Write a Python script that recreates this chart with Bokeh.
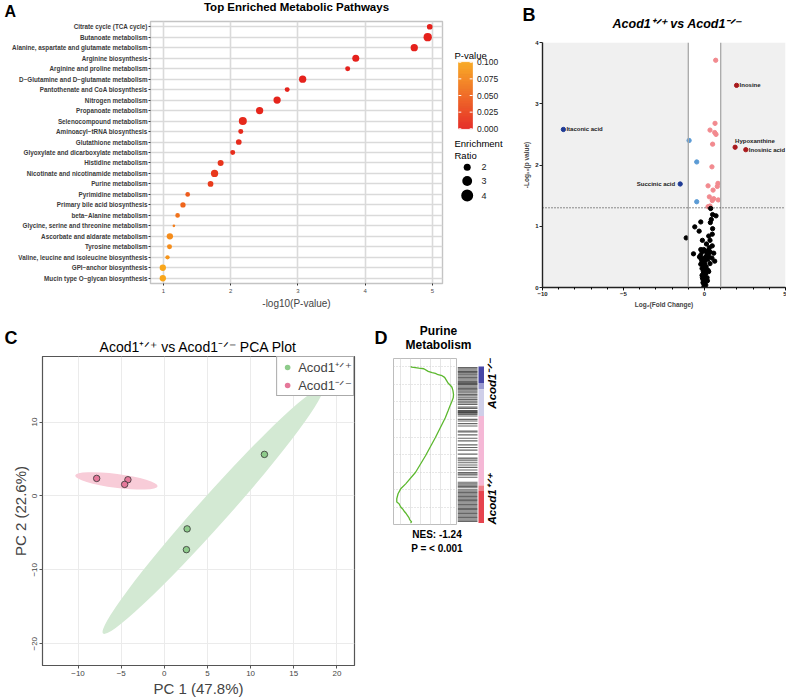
import math
from bokeh.plotting import figure
from bokeh.models import (Range1d, FactorRange, LinearColorMapper, Label, FixedTicker,
                          ColumnDataSource, Legend, LegendItem, BoxAnnotation, Span, Spacer)
from bokeh.layouts import row, column
from bokeh.embed import file_html
from bokeh.resources import INLINE
from bokeh.core.properties import value

FONT = "Liberation Sans"

# ---------------- Panel A data ----------------
pathways = [
    "Citrate cycle (TCA cycle)", "Butanoate metabolism", "Alanine, aspartate and glutamate metabolism",
    "Arginine biosynthesis", "Arginine and proline metabolism", "D\u2212Glutamine and D\u2212glutamate metabolism",
    "Pantothenate and CoA biosynthesis", "Nitrogen metabolism", "Propanoate metabolism",
    "Selenocompound metabolism", "Aminoacyl\u2212tRNA biosynthesis", "Glutathione metabolism",
    "Glyoxylate and dicarboxylate metabolism", "Histidine metabolism", "Nicotinate and nicotinamide metabolism",
    "Purine metabolism", "Pyrimidine metabolism", "Primary bile acid biosynthesis", "beta\u2212Alanine metabolism",
    "Glycine, serine and threonine metabolism", "Ascorbate and aldarate metabolism", "Tyrosine metabolism",
    "Valine, leucine and isoleucine biosynthesis", "GPI\u2212anchor biosynthesis",
    "Mucin type O\u2212glycan biosynthesis"]
neglog10_p = [4.96, 4.93, 4.73, 3.86, 3.74, 3.07, 2.84, 2.69, 2.43, 2.18, 2.15, 2.12, 2.03,
              1.85, 1.76, 1.70, 1.36, 1.29, 1.21, 1.155, 1.095, 1.09, 1.06, 0.99, 0.99]
enrichment_ratio = [1.65, 2.42, 2.09, 2.0, 1.49, 2.09, 1.49, 2.09, 2.09, 2.32, 1.49, 1.65, 1.49,
                    1.73, 2.09, 1.65, 1.43, 1.56, 1.43, 1.12, 1.81, 1.49, 1.36, 1.81, 1.81]
pvalue_ticks = [0.0, 0.025, 0.05, 0.075, 0.1]
ratio_legend = [2, 3, 4]

# ---------------- Panel B data ----------------
other_fc = [0.69, 0.65, 0.34, 0.63, 0.71, 0.50, 0.46, 0.83, 0.79, 0.22, 0.53, 0.30, 0.57, 0.48, 0.85,
            0.22, 0.34, -0.95, -0.48, -0.48,
            0.38, 0.50, 0.42, 0.71, 0.36, -0.23, -0.60, -0.33, 0.50, 0.48, 0.26, -1.13, 0.34, -0.13,
            0.12, 0.48, 0.30, -0.23, 0.08, -0.15, 0.26, 0.57, -0.68, -0.23, 0.14, 0.46, -0.31, 0.01,
            0.20, -0.17, 0.63, 0.01, -0.23, 0.34, 0.10, -0.15, 0.22, -0.07, 0.08, -0.15, 0.01, 0.16,
            -0.09, 0.03, -0.05, 0.08, -0.03, -0.09, 0.18, -0.13, 0.26, -0.03, 0.05, 0.28, -0.23,
            0.0, 0.05, -0.02, 0.12, 0.0, -0.10, 0.15, 0.20, -0.05, 0.35, 0.10, 0.03, -0.08, 0.06]
other_logp = [3.71, 2.68, 2.57, 2.53, 2.50, 2.34, 1.97, 1.70, 1.65, 1.66, 1.59, 1.48, 1.45, 1.42, 1.43,
              1.32, 1.33, 2.40, 2.05, 1.40,
              1.29, 1.19, 1.11, 1.17, 1.06, 1.07, 0.99, 0.92, 0.96, 0.87, 0.84, 0.81, 0.77, 0.77,
              0.71, 0.68, 0.65, 0.62, 0.59, 0.58, 0.56, 0.56, 0.55, 0.53, 0.52, 0.48, 0.50, 0.48,
              0.46, 0.44, 0.43, 0.41, 0.38, 0.39, 0.34, 0.31, 0.28, 0.26, 0.23, 0.20, 0.17, 0.16,
              0.13, 0.10, 0.07, 0.04, 0.02, 0.08, 0.11, 0.16, 0.26, 0.33, 0.46, 0.50, 0.48,
              0.05, 0.12, 0.22, 0.30, 0.37, 0.45, 0.57, 0.60, 0.62, 0.58, 0.50, 0.27, 0.35, 0.15]
named_mets = ["Inosine", "Hypoxanthine", "Inosinic acid", "Itaconic acid", "Succinic acid"]
named_fc = [1.98, 1.89, 2.55, -8.71, -1.50]
named_logp = [3.30, 2.29, 2.25, 2.58, 1.69]
P_CUT = -math.log10(0.05)
FC_CUT = 1.0

# ---------------- Panel C data ----------------
groups = ["Acod1\u207a\u141f\u207a", "Acod1\u207b\u141f\u207b"]
pc1_wt = [11.6, 2.64, 2.56]
pc2_wt = [5.62, -4.46, -7.27]
pc1_ko = [-7.84, -4.22, -4.60]
pc2_ko = [2.37, 2.19, 1.56]
ellipse_major = [38.1, 9.63]      # in PC1 units
ellipse_minor = [4.0, 1.87]       # in PC2 units
ellipse_angle = [48.2, -7.4]      # degrees

# ---------------- Panel D data ----------------
es_rank = [0, 38, 94, 131, 281, 356, 394, 469, 525, 619, 806, 938, 1069, 1181, 1369, 1594, 1781, 1969,
           2194, 2531, 2906, 4031, 5063, 6000, 6656, 6938, 7219, 7500, 7688, 7781, 7969, 8063, 8194,
           8306, 8438, 8569, 8681, 8813, 8870]
es_value = [0.0, 0.01, 0.083, 0.133, 0.177, 0.217, 0.25, 0.277, 0.317, 0.343, 0.363, 0.377, 0.40,
            0.417, 0.427, 0.433, 0.43, 0.417, 0.40, 0.377, 0.35, 0.25, 0.15, 0.05, -0.05, -0.10,
            -0.127, -0.14, -0.14, -0.117, -0.10, -0.083, -0.067, -0.05, -0.033, -0.017, -0.01, 0.01, 0.0]
hit_ranks = [56, 131, 206, 281, 338, 413, 469, 544, 619, 694, 769, 844, 919, 975, 1031, 1106, 1181,
             1256, 1331, 1406, 1500, 1594, 1669, 1781, 1875, 1969, 2063, 2156, 2306, 2381, 2494, 2550,
             2606, 2644, 2719, 2813, 3000, 3094, 3244, 3375, 3656, 3713, 3881, 4069, 4219, 4444, 4594,
             4744, 4969, 5194, 5250, 5344, 5456, 5588, 5719, 5869, 6019, 6094, 6150, 6281, 6563, 6656,
             6731, 6806, 6881, 6994, 7069, 7144, 7219, 7294, 7369, 7444, 7519, 7594, 7669, 7744, 7819,
             7894, 7969, 8044, 8119, 8194, 8269, 8344, 8419, 8494, 8569, 8644, 8719, 8794]
n_ranked = 8870
band_lo = [0, 940, 1300, 2810, 6750, 7030]
band_hi = [940, 1300, 2810, 6750, 7030, 8870]
band_col = ["#4646a6", "#9a9ad0", "#cfcfe9", "#f5b8d6", "#ef7f8a", "#e6434e"]
nes_text = "NES: -1.24"
p_text = "P = < 0.001"


# ---------------- helpers ----------------
def base_fig(w, h, **kw):
    p = figure(width=w, height=h, output_backend="svg", toolbar_location=None, **kw)
    p.background_fill_color = "white"
    p.border_fill_color = "white"
    p.frame_align = False
    return p


def blank_fig(w, h):
    p = base_fig(w, h, x_range=Range1d(0, w), y_range=Range1d(h, 0), min_border=0,
                 min_border_left=0, min_border_right=0, min_border_top=0, min_border_bottom=0,
                 x_axis_location=None, y_axis_location=None)
    p.outline_line_color = None
    p.xgrid.visible = False
    p.ygrid.visible = False
    return p


def txt(p, h, x, y, text, size, style="normal", align="left", baseline="alphabetic",
        angle=0.0, color="black"):
    # p is a blank figure whose frame is its whole canvas; (x, y) measured from its top-left.
    # For alphabetic text, y is the wanted baseline (the renderer sits text ~0.28em lower).
    if baseline == "alphabetic":
        y = y - 0.28 * size
    p.add_layout(Label(x=x, y=h - y, x_units="screen", y_units="screen",
                       text=text, text_font=FONT, text_font_size=f"{size}px", text_font_style=style,
                       text_align=align, text_baseline=baseline, angle=angle, text_color=color))


def style_axis(ax, size, color, style="normal"):
    ax.major_label_text_font = FONT
    ax.major_label_text_font_size = f"{size}px"
    ax.major_label_text_color = color
    ax.major_label_text_font_style = style
    ax.axis_label_text_font = FONT


TOTAL_W = 786
TOP_H = 318
BOT_H = 381

# ---------------- Panel A ----------------
RED = (229, 33, 28)
ORANGE = (249, 166, 27)
palette = ["#%02x%02x%02x" % tuple(round(a + (b - a) * i / 255) for a, b in zip(RED, ORANGE))
           for i in range(256)]
mapper = LinearColorMapper(palette=palette, low=0.0, high=0.1)


def ratio_to_px(r):
    return math.sqrt(max(47.5 * r - 46.0, 4.0))


srcA = ColumnDataSource(dict(
    path=pathways, x=neglog10_p, pval=[10 ** (-v) for v in neglog10_p],
    size=[ratio_to_px(r) for r in enrichment_ratio]))

A_W = 446
Ah_H = 20
pAh = blank_fig(A_W, Ah_H)
txt(pAh, Ah_H, 296, 10, "Top Enriched Metabolic Pathways", 11.5, style="bold", align="center")
txt(pAh, Ah_H, 4, 15.6, "A", 16, style="bold")

A_H = TOP_H - Ah_H
pA = base_fig(A_W, A_H, y_range=FactorRange(*pathways[::-1]), x_range=Range1d(0.807, 5.15),
              min_border_left=150, min_border_right=4, min_border_top=1, min_border_bottom=35)
pA.outline_line_color = "#c4c4c4"
pA.outline_line_width = 1.4
pA.xgrid.ticker = FixedTicker(ticks=[1, 2, 3, 4, 5])
pA.xgrid.grid_line_color = "#dadada"
pA.xgrid.grid_line_width = 1.6
pA.ygrid.grid_line_color = "#dadada"
pA.ygrid.grid_line_width = 1.3
pA.xaxis.ticker = FixedTicker(ticks=[1, 2, 3, 4, 5])
for ax in (pA.xaxis[0], pA.yaxis[0]):
    ax.axis_line_color = None
    ax.major_tick_line_color = "#333333"
    ax.major_tick_out = 2
    ax.major_tick_in = 0
    ax.minor_tick_line_color = None
    ax.major_label_standoff = 1
style_axis(pA.yaxis[0], 6.3, "#3a3a3a", "bold")
style_axis(pA.xaxis[0], 6, "#4d4d4d")
pA.xaxis.major_label_standoff = 3
pA.xaxis.axis_label = "-log10(P-value)"
pA.xaxis.axis_label_text_font_size = "10px"
pA.xaxis.axis_label_text_font_style = "normal"
pA.xaxis.axis_label_standoff = 2
pA.scatter("x", "path", size="size", source=srcA, fill_color={"field": "pval", "transform": mapper},
           line_color=None)

# legend column for A (colour bar + size key)
L_W = 520 - A_W
pL = blank_fig(L_W, TOP_H)
bar_top, bar_bot, bar_l, bar_r = 61.7, 128.3, 12, 26
cb_n = 80


def vy(v):
    return bar_bot - (bar_bot - bar_top) * v / 0.1


cb_src = ColumnDataSource(dict(
    v=[0.1 * (i + 0.5) / cb_n for i in range(cb_n)],
    b=[vy(0.1 * i / cb_n) for i in range(cb_n)],
    t=[vy(0.1 * (i + 1) / cb_n) for i in range(cb_n)]))
pL.quad(left=bar_l, right=bar_r, bottom="b", top="t", source=cb_src,
        fill_color={"field": "v", "transform": mapper}, line_color={"field": "v", "transform": mapper},
        line_width=0.4)
tick_y = [vy(t) for t in pvalue_ticks]
pL.segment(x0=[bar_l] * 5, x1=[bar_l + 2.8] * 5, y0=tick_y, y1=tick_y, line_color="white", line_width=1)
pL.segment(x0=[bar_r - 2.8] * 5, x1=[bar_r] * 5, y0=tick_y, y1=tick_y, line_color="white", line_width=1)
pL.text(x=[bar_r + 4.5] * 5, y=tick_y, text=["%.3f" % t for t in pvalue_ticks], text_font=value(FONT),
        text_font_size="8.5px", text_baseline="middle", text_align="left", text_color="#222222")
txt(pL, TOP_H, 8, 57.3, "P-value", 9.5)
txt(pL, TOP_H, 8, 145.7, "Enrichment", 9.5)
txt(pL, TOP_H, 8, 157.3, "Ratio", 9.5)
leg_y = [166.7, 180.5, 195]
pL.scatter(x=[20.7] * 3, y=leg_y, size=[ratio_to_px(r) for r in ratio_legend],
           fill_color="black", line_color=None)
pL.text(x=[35] * 3, y=leg_y, text=[str(r) for r in ratio_legend], text_font=value(FONT),
        text_font_size="9px", text_baseline="middle", text_align="left", text_color="#222222")

# ---------------- Panel B ----------------
B_W = TOTAL_W - 520
Bh_H = 40
pBh = blank_fig(B_W, Bh_H)
txt(pBh, Bh_H, 156.7, 27.3, groups[0] + " vs " + groups[1], 12.5, style="bold italic", align="center")
txt(pBh, Bh_H, 2, 19.3, "B", 18, style="bold")

B_H = TOP_H - Bh_H
pB = base_fig(B_W, B_H, x_range=Range1d(-10, 5), y_range=Range1d(0, 4),
              min_border_left=21, min_border_right=1, min_border_top=2, min_border_bottom=31)
pB.outline_line_color = None
pB.xgrid.visible = False
pB.ygrid.visible = False
pB.add_layout(BoxAnnotation(right=-FC_CUT, fill_color="#f0f0f0", fill_alpha=1, line_alpha=0, level="underlay"))
pB.add_layout(BoxAnnotation(left=FC_CUT, fill_color="#f0f0f0", fill_alpha=1, line_alpha=0, level="underlay"))
pB.add_layout(Span(location=-FC_CUT, dimension="height", line_color="#a8a8a8", line_width=1.3))
pB.add_layout(Span(location=FC_CUT, dimension="height", line_color="#a8a8a8", line_width=1.3))
pB.add_layout(Span(location=P_CUT, dimension="width", line_color="#222222", line_width=1, line_dash="1 2"))

DARK_RED, DARK_BLUE, PINK, LIGHT_BLUE = "#a8191c", "#1f3b95", "#f28a8f", "#5b9bd5"


def vcol(fc, lp):
    if lp < P_CUT:
        return "black"
    if fc >= FC_CUT:
        return DARK_RED
    if fc <= -FC_CUT:
        return DARK_BLUE
    return PINK if fc > 0 else LIGHT_BLUE


all_fc = other_fc + named_fc
all_lp = other_logp + named_logp
pB.scatter(all_fc, all_lp, size=4.3, color=[vcol(a, b) for a, b in zip(all_fc, all_lp)])
lab_style = {"Inosine": ("left", 3, 0, "middle"), "Inosinic acid": ("left", 3, 0, "middle"),
             "Itaconic acid": ("left", 3, 0, "middle"), "Succinic acid": ("right", -5, 0, "middle"),
             "Hypoxanthine": ("left", 0, -6, "middle")}
for nm, fx, ly in zip(named_mets, named_fc, named_logp):
    al, xo, yo, bl = lab_style[nm]
    pB.text(x=[fx], y=[ly], text=[nm], x_offset=xo, y_offset=yo, text_align=al, text_baseline=bl,
            text_font=value(FONT), text_font_size="6px", text_font_style="bold", text_color="#222222")
pB.xaxis.ticker = FixedTicker(ticks=[-10, -5, 0, 5], minor_ticks=list(range(-10, 6)))
pB.yaxis.ticker = FixedTicker(ticks=[0, 1, 2, 3, 4])
for ax in (pB.xaxis[0], pB.yaxis[0]):
    ax.axis_line_color = "#222222"
    ax.axis_line_width = 1.4
    ax.major_tick_line_color = "#222222"
    ax.major_tick_out = 3
    ax.major_tick_in = 0
    ax.minor_tick_out = 2
    ax.minor_tick_in = 0
    ax.major_label_standoff = 1
    style_axis(ax, 6, "#222222", "bold")
    ax.axis_label_text_font_size = "6.5px"
    ax.axis_label_text_font_style = "bold"
    ax.axis_label_standoff = 2
pB.yaxis.minor_tick_line_color = None
pB.xaxis.axis_label = "Log\u2082(Fold Change)"
pB.yaxis.axis_label = "-Log\u2081\u2080(p value)"

# ---------------- Panel C ----------------
C_W = 372
Ch_H = 37
pCh = blank_fig(C_W, Ch_H)
txt(pCh, Ch_H, 198, 32, groups[0] + " vs " + groups[1] + " PCA Plot", 14, align="center")
txt(pCh, Ch_H, 4, 24.7, "C", 18, style="bold")

C_H = BOT_H - Ch_H
pC = base_fig(C_W, C_H, x_range=Range1d(-14.12, 22.04), y_range=Range1d(-22.95, 18.87),
              min_border_left=42, min_border_right=18, min_border_top=1, min_border_bottom=31)
pC.outline_line_color = "#555555"
pC.outline_line_width = 1.2
pC.xaxis.ticker = FixedTicker(ticks=[-10, -5, 0, 5, 10, 15, 20])
pC.yaxis.ticker = FixedTicker(ticks=[-20, -10, 0, 10])
pC.xgrid.ticker = FixedTicker(ticks=[-10, -5, 0, 5, 10, 15, 20])
pC.ygrid.ticker = FixedTicker(ticks=[-20, -10, 0, 10])
pC.grid.grid_line_color = "#ebebeb"
pC.grid.grid_line_width = 1
for ax in (pC.xaxis[0], pC.yaxis[0]):
    ax.axis_line_color = "#555555"
    ax.major_tick_line_color = "#555555"
    ax.major_tick_out = 3
    ax.major_tick_in = 0
    ax.minor_tick_line_color = None
    ax.major_label_standoff = 2
    style_axis(ax, 8, "#444444")
    ax.axis_label_text_font_size = "15px"
    ax.axis_label_text_font_style = "normal"
    ax.axis_label_standoff = 1
pC.yaxis.major_label_orientation = "vertical"
pC.xaxis.axis_label = "PC 1 (47.8%)"
pC.yaxis.axis_label = "PC 2 (22.6%)"
GREEN_F, PINK_F = "#d3e9d3", "#f8ccd8"
GREEN_P, PINK_P = "#8ecb8b", "#e5789a"
cx = [sum(pc1_wt) / len(pc1_wt), sum(pc1_ko) / len(pc1_ko)]
cy = [sum(pc2_wt) / len(pc2_wt), sum(pc2_ko) / len(pc2_ko)]
pC.ellipse(x=cx, y=cy, width=ellipse_major, height=ellipse_minor, angle=ellipse_angle, angle_units="deg",
           fill_color=[GREEN_F, PINK_F], line_color=None)
leg_wt = pC.scatter(pc1_wt, pc2_wt, size=1, fill_color=GREEN_P, line_color=None)
leg_ko = pC.scatter(pc1_ko, pc2_ko, size=1, fill_color=PINK_P, line_color=None)
pC.scatter(pc1_wt, pc2_wt, size=6.5, fill_color=GREEN_P, line_color="#333333", line_width=0.8)
pC.scatter(pc1_ko, pc2_ko, size=6.5, fill_color=PINK_P, line_color="#333333", line_width=0.8)
legC = Legend(items=[LegendItem(label=groups[0], renderers=[leg_wt]),
                     LegendItem(label=groups[1], renderers=[leg_ko])],
              location="top_right", margin=0, padding=1, spacing=0, border_line_color="#555555",
              border_line_width=1.2, label_text_font=FONT, label_text_font_size="13px",
              glyph_width=18, glyph_height=14, label_height=14, label_standoff=2,
              background_fill_alpha=1)
pC.add_layout(legC)

# ---------------- Panel D ----------------
D_W = 500 - C_W
Dt_H = 38
pDt = blank_fig(D_W, Dt_H)
txt(pDt, Dt_H, 2, 24.7, "D", 18, style="bold")
txt(pDt, Dt_H, 66, 15.5, "Purine", 12, style="bold", align="center")
txt(pDt, Dt_H, 66, 30.3, "Metabolism", 12, style="bold", align="center")

Dc_W, Db_W = 85, 27
Dl_W = D_W - Dc_W - Db_W
Dc_H = 170
yr = Range1d(n_ranked + 90, -450)
pD = base_fig(Dc_W, Dc_H, x_range=Range1d(-0.173, 0.473), y_range=yr,
              min_border_left=21, min_border_right=0, min_border_top=2, min_border_bottom=2,
              x_axis_location=None, y_axis_location=None)
pD.outline_line_color = "#bdbdbd"
pD.outline_line_width = 1
pD.xgrid.ticker = FixedTicker(ticks=[-0.1, 0.0, 0.1, 0.2, 0.3, 0.4])
pD.ygrid.ticker = FixedTicker(ticks=list(range(0, 9000, 1000)))
pD.xgrid.grid_line_color = "#dedede"
pD.xgrid.grid_line_width = 0.8
pD.ygrid.grid_line_color = "#cfcfcf"
pD.ygrid.grid_line_dash = "1 2"
pD.line(es_value, es_rank, line_color="#5cb82e", line_width=1.3)

pDb = base_fig(Db_W, Dc_H, x_range=Range1d(0, 27), y_range=yr,
               min_border_left=0, min_border_right=0, min_border_top=2, min_border_bottom=2,
               x_axis_location=None, y_axis_location=None)
pDb.outline_line_color = None
pDb.xgrid.visible = False
pDb.ygrid.visible = False
pDb.segment(x0=0, x1=20, y0=hit_ranks, y1=hit_ranks, line_color="black", line_alpha=0.6, line_width=1.1)
pDb.quad(left=21, right=27, top=band_lo, bottom=band_hi, fill_color=band_col, line_color=None)

pDl = blank_fig(Dl_W, Dc_H)
txt(pDl, Dc_H, 7.5, 2, groups[1], 11.5, style="bold italic", align="right", baseline="middle",
    angle=math.pi / 2)
txt(pDl, Dc_H, 7.5, Dc_H - 2, groups[0], 11.5, style="bold italic", align="left", baseline="middle",
    angle=math.pi / 2)

Dx_H = BOT_H - Dt_H - Dc_H
pDx = blank_fig(D_W, Dx_H)
txt(pDx, Dx_H, 64.5, 10.7, nes_text, 10, style="bold", align="center")
txt(pDx, Dx_H, 64.5, 24.7, p_text, 10, style="bold", align="center")

# ---------------- Layout ----------------
top = row(column(pAh, pA), pL, column(pBh, pB))
dcol = column(pDt, row(pD, pDb, pDl), pDx)
bottom = row(column(pCh, pC), dcol, Spacer(width=TOTAL_W - C_W - D_W, height=BOT_H))
root = column(top, bottom)

open("out.html", "w").write(file_html(root, INLINE))
